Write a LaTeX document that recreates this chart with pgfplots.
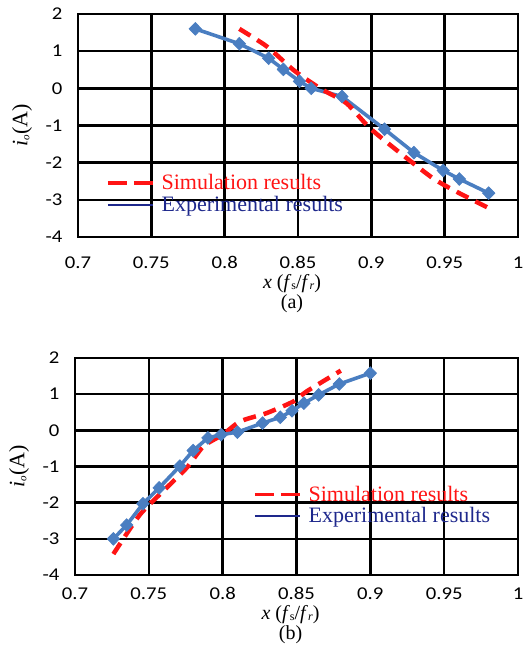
\documentclass[border=0pt]{standalone}
\usepackage{pgfplots}
\pgfplotsset{compat=1.18}
\usepackage{fontspec}
\setmainfont{Liberation Serif}
\newfontfamily\calibri[FakeStretch=1.15]{Carlito}
\definecolor{expblue}{RGB}{74,126,193}
\definecolor{legblue}{RGB}{30,40,140}
\definecolor{simred}{RGB}{255,20,20}
\pgfplotsset{
  myax/.style={
    scale only axis,
    xmin=0.7, xmax=1, ymin=-4, ymax=2,
    xtick={0.7,0.75,0.8,0.85,0.9,0.95,1},
    xticklabels={0.7,0.75,0.8,0.85,0.9,0.95,1},
    ytick={-4,-3,-2,-1,0,1,2},
    yticklabels={-4,-3,-2,-1,0,1,2},
    grid=major,
    major grid style={black, line width=2.4pt},
    axis line style={black, line width=2.4pt},
    major tick length=0pt,
    tick label style={font=\calibri\fontsize{18}{18}\selectfont},
    yticklabel style={xshift=-12pt},
    every axis y label/.style={at={(axis description cs:0,0.5)}, xshift=-56pt, rotate=90, anchor=center, font=\fontsize{22}{22}\selectfont},
    every axis x label/.style={at={(axis description cs:0.5,0)}, anchor=north, align=center, inner sep=0pt, font=\fontsize{20}{20.5}\selectfont, xshift=-6pt},
    ylabel={\textit{i}{\fontsize{11}{11}\selectfont\raisebox{-0.4ex}{\textit{o}}}(A)},
    legend style={draw=none, fill=none, font=\fontsize{22}{22}\selectfont, inner sep=0pt, row sep=1pt},
    legend cell align=left,
    legend image code/.code={\draw[#1] (0pt,0pt) -- (45pt,0pt); \path (50pt,0pt);},
    expstyle/.style={expblue, line width=3.6pt, mark=diamond*, mark size=6.3pt, mark options={solid, fill=expblue, line width=0.8pt, xscale=1.3}, forget plot},
    simstyle/.style={simred, line width=4.5pt, dash pattern=on 13pt off 8pt, smooth, tension=0.4, forget plot},
  }
}
\begin{document}
\begin{tikzpicture}
\path[use as bounding box] (0,0) rectangle (522pt,666pt);
% (a)
\begin{axis}[myax, at={(78pt,429pt)}, anchor=south west, width=440pt, height=223pt,
  xticklabel style={yshift=-16pt},
  x label style={yshift=-37pt},
  xlabel={\textit{x} (\textit{f}{\fontsize{12}{12}\selectfont\raisebox{-0.2ex}{s}}/\textit{f}{\fontsize{12}{12}\selectfont\raisebox{-0.2ex}{\textit{r}}})\\(a)},
  legend style={at={(axis cs:0.719,-2.84)}, anchor=west}]
\addplot[expstyle] coordinates {
(0.78,1.6) (0.81,1.2) (0.83,0.81) (0.84,0.51) (0.851,0.19) (0.859,0.0) (0.88,-0.22) (0.909,-1.1) (0.929,-1.73) (0.949,-2.21) (0.96,-2.44) (0.98,-2.82)};
\addplot[simstyle] coordinates {
(0.81,1.6) (0.829,1.12) (0.847,0.49) (0.865,0.0) (0.883,-0.4) (0.899,-1.07) (0.92,-1.75) (0.942,-2.42) (0.958,-2.78) (0.98,-3.22)};
\addlegendimage{simred, line width=3.5pt, dash pattern=on 19pt off 7pt}
\addlegendentry{\textcolor{simred}{Simulation results}}
\addlegendimage{legblue, line width=1.8pt}
\addlegendentry{\textcolor{legblue}{Experimental results}}
\end{axis}
% (b)
\begin{axis}[myax, at={(75pt,91pt)}, anchor=south west, width=443pt, height=217pt,
  xticklabel style={yshift=-9pt},
  x label style={yshift=-30pt},
  xlabel={\textit{x} (\textit{f}{\fontsize{12}{12}\selectfont\raisebox{-0.2ex}{s}}/\textit{f}{\fontsize{12}{12}\selectfont\raisebox{-0.2ex}{\textit{r}}})\\(b)},
  legend style={at={(axis cs:0.8205,-2.07)}, anchor=west}]
\addplot[simstyle] coordinates {
(0.726,-3.42) (0.744,-2.33) (0.762,-1.59) (0.776,-1.02) (0.787,-0.44) (0.8,-0.12) (0.812,0.25) (0.83,0.48) (0.848,0.8) (0.857,1.08) (0.88,1.65)};
\addplot[expstyle] coordinates {
(0.726,-3.0) (0.735,-2.62) (0.746,-2.03) (0.757,-1.59) (0.771,-0.99) (0.78,-0.56) (0.79,-0.21) (0.799,-0.12) (0.81,-0.05) (0.827,0.2) (0.839,0.36) (0.847,0.54) (0.855,0.75) (0.865,0.98) (0.879,1.28) (0.9,1.58)};
\addlegendimage{simred, line width=3.5pt, dash pattern=on 19pt off 7pt}
\addlegendentry{\textcolor{simred}{Simulation results}}
\addlegendimage{legblue, line width=1.8pt}
\addlegendentry{\textcolor{legblue}{Experimental results}}
\end{axis}
\end{tikzpicture}
\end{document}
